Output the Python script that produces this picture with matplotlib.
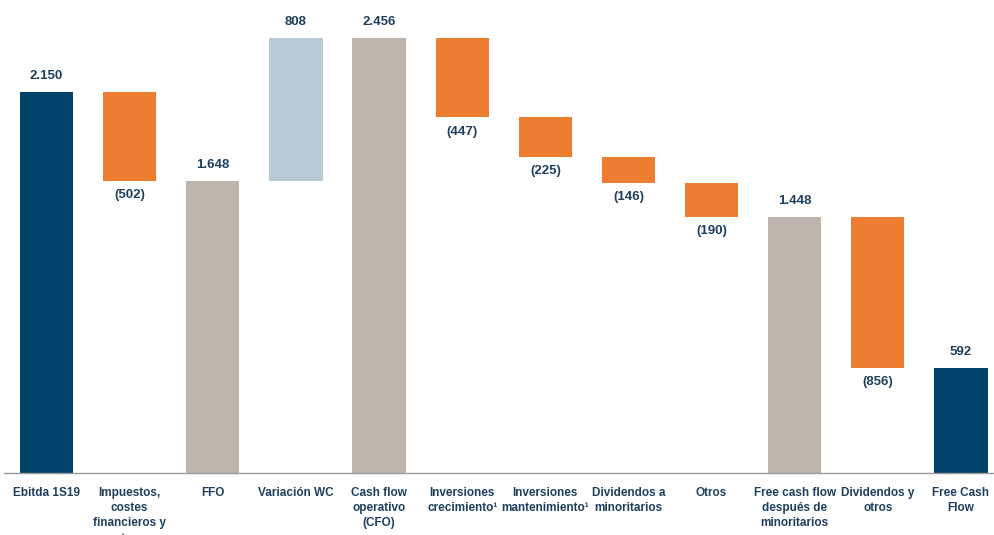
import matplotlib
matplotlib.use("Agg")
import matplotlib.pyplot as plt

plt.rcParams['font.family'] = ['Liberation Sans', 'DejaVu Sans']

categories = [
    "Ebitda 1S19",
    "Impuestos,\ncostes\nfinancieros y\notros",
    "FFO",
    "Variación WC",
    "Cash flow\noperativo\n(CFO)",
    "Inversiones\ncrecimiento¹",
    "Inversiones\nmantenimiento¹",
    "Dividendos a\nminoritarios",
    "Otros",
    "Free cash flow\ndespués de\nminoritarios",
    "Dividendos y\notros",
    "Free Cash\nFlow",
]
# signed movements; "total" steps show the running total
values = [2150, -502, 1648, 808, 2456, -447, -225, -146, -190, 1448, -856, 592]
kinds = ["start", "delta", "total", "delta", "total", "delta", "delta",
         "delta", "delta", "total", "delta", "end"]

NAVY = "#02426A"
ORANGE = "#ED7D31"
BEIGE = "#BEB6AC"
LIGHTBLUE = "#B8CAD3"
TEXT = "#1E3F5E"

fig = plt.figure(figsize=(9.95, 5.35), dpi=100)
ax = fig.add_axes([4 / 995, 62 / 535, 991 / 995, 473 / 535])


def fmt(n):
    return f"{n:,}".replace(",", ".")


running = 0
for i, (v, k) in enumerate(zip(values, kinds)):
    if k in ("start", "end", "total"):
        color = NAVY if k in ("start", "end") else BEIGE
        running = v
        ax.bar(i, v, bottom=0, width=0.64, color=color)
        ax.annotate(fmt(v), (i, v), xytext=(0, 7), textcoords="offset points",
                    ha="center", va="bottom", fontsize=9.5, fontweight="bold", color=TEXT)
    elif v >= 0:
        ax.bar(i, v, bottom=running, width=0.64, color=LIGHTBLUE)
        ax.annotate(fmt(v), (i, running + v), xytext=(0, 7), textcoords="offset points",
                    ha="center", va="bottom", fontsize=9.5, fontweight="bold", color=TEXT)
        running += v
    else:
        ax.bar(i, -v, bottom=running + v, width=0.64, color=ORANGE)
        ax.annotate(f"({fmt(-v)})", (i, running + v), xytext=(0, -6), textcoords="offset points",
                    ha="center", va="top", fontsize=9.5, fontweight="bold", color=TEXT)
        running += v

x0 = 46.5
step = (961 - 46.5) / 11
ax.set_xlim(-(x0 - 4) / step, 11 + (995 - 961) / step)
ax.set_ylim(0, 2456 * 473 / 435)

for s in ("top", "right", "left"):
    ax.spines[s].set_visible(False)
ax.spines["bottom"].set_color("#9A9A9A")
ax.spines["bottom"].set_linewidth(1.0)
ax.set_yticks([])
ax.set_xticks(range(len(categories)))
ax.set_xticklabels(categories, fontsize=8.5, fontweight="bold", color=TEXT, linespacing=1.36)
ax.tick_params(axis="x", length=0, pad=10)

fig.savefig("out.png", dpi=100)
